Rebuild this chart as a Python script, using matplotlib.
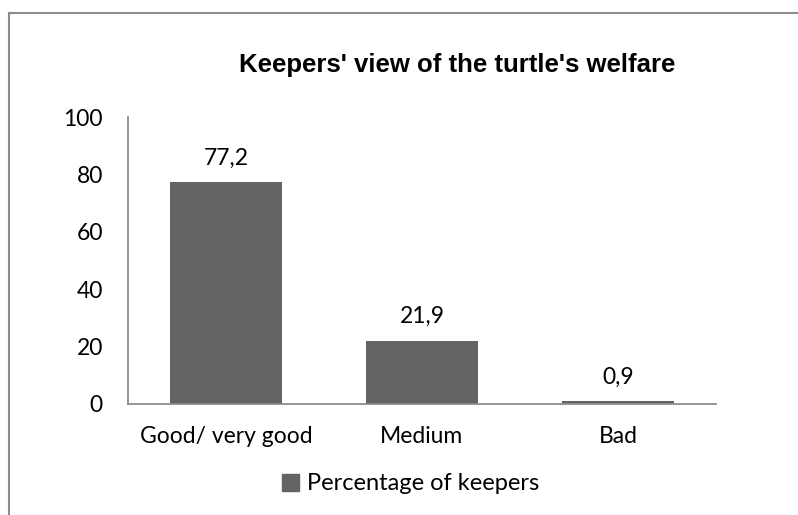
import matplotlib.pyplot as plt
from matplotlib.lines import Line2D

categories = ['Good/ very good', 'Medium', 'Bad']
percentages = [77.2, 21.9, 0.9]
value_labels = ['77,2', '21,9', '0,9']
yticks = [0, 20, 40, 60, 80, 100]

W, H = 798, 515
fig = plt.figure(figsize=(W / 100, H / 100), dpi=100)

body_font = ['Lato', 'DejaVu Sans']
body_size = 16.5
bar_color = '#646464'
axis_color = '#8c8c8c'

# plot area in pixel terms
left, right, top, bottom = 128, 716, 117, 404
ax = fig.add_axes([left / W, 1 - bottom / H, (right - left) / W, (bottom - top) / H])

x = range(len(categories))
ax.bar(x, percentages, width=0.57, color=bar_color, zorder=2)
ax.set_xlim(-0.5, 2.5)
ax.set_ylim(0, 100)

for i, (v, lab) in enumerate(zip(percentages, value_labels)):
    ax.annotate(lab, (i, v), xytext=(0, 10), textcoords='offset points',
                ha='center', va='bottom', fontsize=body_size, family=body_font)

ax.set_yticks(yticks)
ax.set_yticklabels([str(t) for t in yticks], fontsize=body_size, family=body_font)
ax.set_xticks(list(x))
ax.set_xticklabels(categories, fontsize=body_size, family=body_font)
ax.tick_params(axis='x', length=0, pad=16)
ax.tick_params(axis='y', length=0, pad=18)

for side in ['top', 'right']:
    ax.spines[side].set_visible(False)
for side in ['left', 'bottom']:
    ax.spines[side].set_color(axis_color)
    ax.spines[side].set_linewidth(1.3)

fig.text(457 / W, 1 - 65 / H, "Keepers' view of the turtle's welfare",
         ha='center', va='center', fontsize=18.5, fontweight='bold',
         family=['Liberation Sans', 'DejaVu Sans'])

# legend below the plot
fig.legend([plt.Rectangle((0, 0), 1, 1, color=bar_color)], ['Percentage of keepers'],
           loc='center', bbox_to_anchor=(411 / W, 1 - 484 / H), frameon=False,
           prop={'family': body_font, 'size': 17}, handlelength=0.7,
           handleheight=0.7, handletextpad=0.35)

# chart border (top and left edges visible)
fig.add_artist(Line2D([9 / W, 9 / W], [0, 1 - 13 / H], transform=fig.transFigure,
                      color='#8c8c8c', lw=1.5))
fig.add_artist(Line2D([9 / W, 1], [1 - 13 / H, 1 - 13 / H], transform=fig.transFigure,
                      color='#8c8c8c', lw=1.5))

fig.savefig('out.png', dpi=100)
